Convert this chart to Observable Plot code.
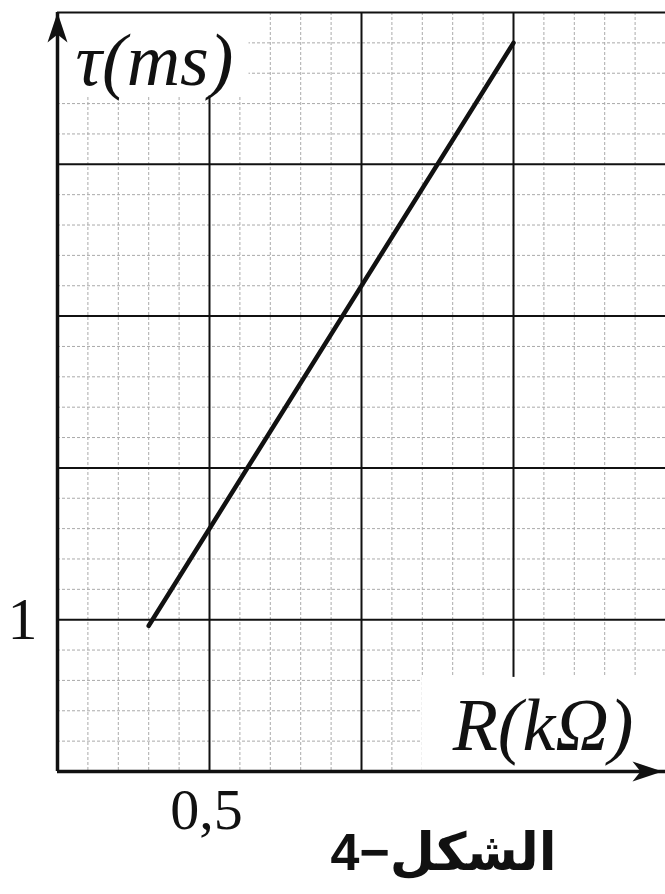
<!DOCTYPE html>
<html>
<head>
<meta charset="utf-8">
<script src="https://cdn.jsdelivr.net/npm/d3@7"></script>
<script src="https://cdn.jsdelivr.net/npm/@observablehq/plot@0.6"></script>
<style>
  html, body { margin: 0; padding: 0; background: #fff; }
</style>
</head>
<body>
<div id="chart"></div>
<script>
// Data
const R = [0.3, 1.5];          // kΩ
const tau = [0.96, 4.8];       // ms
const xMajor = [0.5, 1, 1.5];
const yMajor = [1, 2, 3, 4];
const xMinor = [0.1,0.2,0.3,0.4,0.6,0.7,0.8,0.9,1.1,1.2,1.3,1.4,1.6,1.7,1.8,1.9];
const yMinor = [0.2,0.4,0.6,0.8,1.2,1.4,1.6,1.8,2.2,2.4,2.6,2.8,3.2,3.4,3.6,3.8,4.2,4.4,4.6,4.8];
const xTickLabels = [{v: 0.5, label: "0,5"}];
const yTickLabels = [{v: 1, label: "1"}];
const xTitle = "R(kΩ)";
const yTitle = "τ(ms)";
const caption = "الشكل−4";

const pts = R.map((r, i) => ({R: r, tau: tau[i]}));

const serif = "'Liberation Serif', 'DejaVu Serif', serif";

// filled "stealth" arrow head, tip at origin pointing up
const stealth = {
  draw(ctx) {
    ctx.moveTo(0, 0);
    ctx.lineTo(-10, 30);
    ctx.lineTo(0, 22);
    ctx.lineTo(10, 30);
    ctx.closePath();
  }
};

const chart = Plot.plot({
  width: 665,
  height: 894,
  marginLeft: 57,
  marginRight: 0,
  marginTop: 12,
  marginBottom: 123,
  x: {domain: [0, 2], axis: null},
  y: {domain: [0, 5], axis: null},
  marks: [
    Plot.ruleX(xMinor, {stroke: "#aaa", strokeWidth: 1, strokeDasharray: "3,2"}),
    Plot.ruleY(yMinor, {stroke: "#aaa", strokeWidth: 1, strokeDasharray: "3,2"}),
    Plot.ruleX(xMajor, {stroke: "#111", strokeWidth: 2}),
    Plot.ruleY(yMajor, {stroke: "#111", strokeWidth: 2}),
    // white boxes behind the axis titles
    Plot.rect([{x1: 0, x2: 0.63, y1: 4.45, y2: 5}], {x1: "x1", x2: "x2", y1: "y1", y2: "y2", fill: "white"}),
    Plot.rect([{x1: 1.2, x2: 2, y1: 0, y2: 0.62}], {x1: "x1", x2: "x2", y1: "y1", y2: "y2", fill: "white"}),
    Plot.ruleY([5], {stroke: "#111", strokeWidth: 2}),
    Plot.ruleX([0], {stroke: "#111", strokeWidth: 3.5}),
    Plot.ruleY([0], {stroke: "#111", strokeWidth: 3.5}),
    Plot.dot([{x: 0, y: 5}], {x: "x", y: "y", symbol: stealth, fill: "#111", stroke: "none", r: 1}),
    Plot.dot([{x: 2, y: 0}], {x: "x", y: "y", symbol: stealth, fill: "#111", stroke: "none", r: 1, rotate: 90, dx: -3}),
    Plot.line(pts, {x: "R", y: "tau", stroke: "#111", strokeWidth: 4.5, strokeLinecap: "round"}),
    Plot.text([yTitle], {x: 0, y: 5, text: d => d, textAnchor: "start", lineAnchor: "top", dx: 18, dy: 20,
      fontSize: 74, fontFamily: serif, fontStyle: "italic", fill: "#111"}),
    Plot.text([xTitle], {x: 2, y: 0, text: d => d, textAnchor: "end", lineAnchor: "bottom", dx: -32, dy: -22,
      fontSize: 74, fontFamily: serif, fontStyle: "italic", fill: "#111"}),
    Plot.text(xTickLabels, {x: "v", frameAnchor: "bottom", text: "label", lineAnchor: "top", dy: 16, dx: -3,
      fontSize: 58, fontFamily: serif, fill: "#111"}),
    Plot.text(yTickLabels, {y: "v", frameAnchor: "left", text: "label", textAnchor: "end", dx: -20,
      fontSize: 60, fontFamily: serif, fill: "#111"}),
    Plot.text([caption], {x: 1.27, frameAnchor: "bottom", text: d => d, lineAnchor: "top", dy: 62,
      fontSize: 52, fontWeight: "bold", fontFamily: "'Liberation Sans', 'DejaVu Sans', sans-serif", fill: "#111"})
  ]
});
document.getElementById("chart").appendChild(chart);
</script>
</body>
</html>
